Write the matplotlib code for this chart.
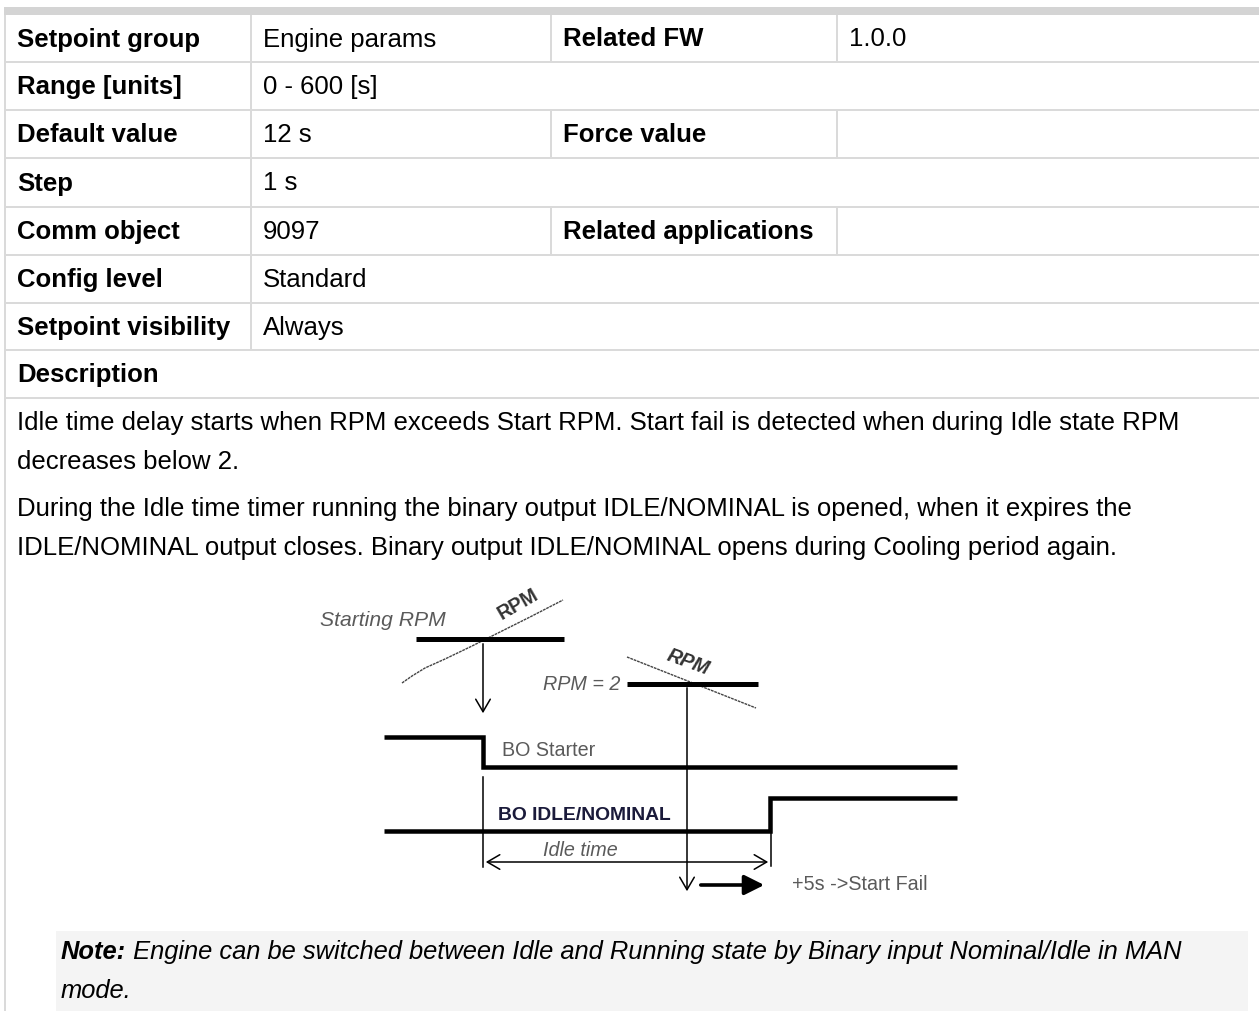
import matplotlib
matplotlib.use("Agg")
import matplotlib.pyplot as plt
from matplotlib.patches import Rectangle, FancyArrowPatch

plt.rcParams['font.family'] = ['Liberation Sans', 'DejaVu Sans']

W, H = 1259, 1011
DPI = 100

# ---- table content ----
row_labels = ["Setpoint group", "Range [units]", "Default value", "Step",
              "Comm object", "Config level", "Setpoint visibility"]
row_values = ["Engine params", "0 - 600 [s]", "12 s", "1 s",
              "9097", "Standard", "Always"]
extra_labels = ["Related FW", None, "Force value", None,
                "Related applications", None, None]
extra_values = ["1.0.0", None, "", None, "", None, None]
desc_title = "Description"
desc_lines = [
    "Idle time delay starts when RPM exceeds Start RPM. Start fail is detected when during Idle state RPM",
    "decreases below 2.",
    "During the Idle time timer running the binary output IDLE/NOMINAL is opened, when it expires the",
    "IDLE/NOMINAL output closes. Binary output IDLE/NOMINAL opens during Cooling period again.",
]
desc_y = [423, 462, 509, 548]
note_bold = "Note:"
note_line1 = " Engine can be switched between Idle and Running state by Binary input Nominal/Idle in MAN"
note_line2 = "mode."

# layout (pixels)
row_edges = [15, 62, 110, 158, 207, 255, 303, 350, 398]
col_x = [5, 251, 551, 837]
grid_color = "#dadada"

fig = plt.figure(figsize=(W / DPI, H / DPI), dpi=DPI)
ax = fig.add_axes([0, 0, 1, 1])
ax.set_xlim(0, W)
ax.set_ylim(H, 0)
ax.axis("off")

px = 0.72  # points per pixel

# top bar
ax.add_patch(Rectangle((4, 7), W - 4, 8, color="#d4d4d4", lw=0))
# left border
ax.plot([5, 5], [15, H], color=grid_color, lw=2 * px, solid_capstyle="butt")
# horizontal row lines
for y in row_edges[1:]:
    ax.plot([5, W], [y, y], color=grid_color, lw=2 * px, solid_capstyle="butt")

fs = 18.5
for i, (lab, val) in enumerate(zip(row_labels, row_values)):
    y0, y1 = row_edges[i], row_edges[i + 1]
    yc = (y0 + y1) / 2 + 1
    ax.plot([col_x[1], col_x[1]], [y0, y1], color=grid_color, lw=2 * px, solid_capstyle="butt")
    ax.text(17, yc, lab, fontsize=fs, fontweight="bold", va="center", ha="left", color="black")
    ax.text(263, yc, val, fontsize=fs, va="center", ha="left", color="black")
    if extra_labels[i] is not None:
        for cx in col_x[2:]:
            ax.plot([cx, cx], [y0, y1], color=grid_color, lw=2 * px, solid_capstyle="butt")
        ax.text(563, yc, extra_labels[i], fontsize=fs, fontweight="bold", va="center", ha="left")
        ax.text(849, yc, extra_values[i], fontsize=fs, va="center", ha="left")

ax.text(17, (row_edges[7] + row_edges[8]) / 2 + 1, desc_title, fontsize=fs,
        fontweight="bold", va="center", ha="left")

for t, y in zip(desc_lines, desc_y):
    ax.text(17, y, t, fontsize=fs, va="center", ha="left", color="black")

# ---- diagram ----
gray = "#5a5a5a"
dfs = 14.2

# rising RPM curve
rpm_up_x = [402, 412, 425, 445, 470, 500, 530, 563]
rpm_up_y = [683, 676, 668, 659, 647, 632, 617, 600]
ax.plot(rpm_up_x, rpm_up_y, color="#444444", lw=1.0, ls=(0, (2, 0.6)))
ax.text(320, 621, "Starting RPM", fontsize=15.2, style="italic", color=gray, va="center", ha="left")
ax.text(518, 604, "RPM", fontsize=dfs, fontweight="bold", color="#333333", va="center",
        ha="center", rotation=30)
ax.plot([416, 564], [639, 639], color="black", lw=5 * px, solid_capstyle="butt")

# arrow from starting RPM down
ax.add_patch(FancyArrowPatch((483, 641), (483, 716), arrowstyle="->,head_length=6,head_width=3.5",
                             color="black", lw=1.1, mutation_scale=1.5))

# falling RPM
ax.plot([627, 756], [657, 708], color="#444444", lw=1.0, ls=(0, (2, 0.6)))
ax.text(688, 662, "RPM", fontsize=dfs, fontweight="bold", style="italic", color="#333333",
        va="center", ha="center", rotation=-20)
ax.text(620, 685, "RPM = 2", fontsize=dfs, style="italic", color=gray, va="center", ha="right")
ax.plot([627, 758], [684, 684], color="black", lw=5 * px, solid_capstyle="butt")

# long vertical arrow from RPM=2
ax.add_patch(FancyArrowPatch((687, 685), (687, 894), arrowstyle="->,head_length=6,head_width=3.5",
                             color="black", lw=1.1, mutation_scale=1.5))

# BO Starter
ax.plot([384, 483, 483, 957], [737, 737, 767, 767], color="black", lw=4.5 * px,
        solid_joinstyle="miter", solid_capstyle="butt")
ax.text(502, 751, "BO Starter", fontsize=dfs, color=gray, va="center", ha="left")

# BO IDLE/NOMINAL
ax.plot([384, 770, 770, 957], [831, 831, 798, 798], color="black", lw=4.5 * px,
        solid_joinstyle="miter", solid_capstyle="butt")
ax.text(498, 815, "BO IDLE/NOMINAL", fontsize=13.9, fontweight="bold", color="#1a1a3a",
        va="center", ha="left")

# idle time dimension
ax.plot([483, 483], [777, 867], color="black", lw=1.1)
ax.plot([771, 771], [831, 866], color="black", lw=1.1)
ax.add_patch(FancyArrowPatch((483, 862), (771, 862), arrowstyle="<->,head_length=6,head_width=3.5",
                             color="black", lw=1.1, mutation_scale=1.5))
ax.text(580, 851, "Idle time", fontsize=dfs, style="italic", color=gray, va="center", ha="center")

# +5s arrow
ax.add_patch(FancyArrowPatch((698, 885), (767, 885), arrowstyle="-|>,head_length=8,head_width=4",
                             color="black", lw=2.6, mutation_scale=1.5))
ax.text(792, 884, "+5s ->Start Fail", fontsize=dfs, color=gray, va="center", ha="left")

# ---- note box ----
nfs = 18.4
ax.add_patch(Rectangle((56, 931), 1248 - 56, H - 931, color="#f4f4f4", lw=0))
tn = ax.text(61, 952, note_bold, fontsize=nfs, fontweight="bold", style="italic",
             va="center", ha="left", color="black")
fig.canvas.draw()
bb = tn.get_window_extent()
x_after = bb.x1  # axes spans the whole figure, so display x equals data x
ax.text(x_after, 952, note_line1, fontsize=nfs, style="italic", va="center", ha="left")
ax.text(61, 991, note_line2, fontsize=nfs, style="italic", va="center", ha="left")

fig.savefig("out.png", dpi=DPI)
